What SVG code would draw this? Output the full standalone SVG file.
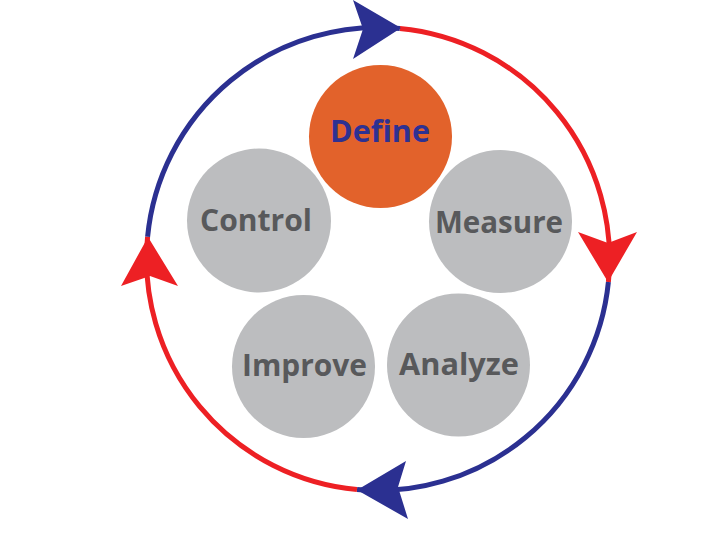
<svg xmlns="http://www.w3.org/2000/svg" width="720" height="540" viewBox="0 0 720 540">
<style>
.bg{fill:#ffffff}
.node{fill:#bcbdbf}
.active{fill:#e2622b}
.lbl{font-family:"Open Sans","Liberation Sans",sans-serif;font-weight:bold;font-size:31px;fill:#58595b;text-anchor:middle}
.lbl-active{fill:#2e3192}
.red{fill:none;stroke:#ed2024;stroke-width:5}
.blue{fill:none;stroke:#2b3091;stroke-width:5}
.head-red{fill:#ed2024}
.head-blue{fill:#2b3091}
</style>
<rect class="bg" x="0" y="0" width="720" height="540"/>
<g id="connectors">
<path class="red" d="M399.8 28.5 A231.5 231.5 0 0 1 608.4 282"/>
<path class="blue" d="M608.4 282 A231.5 231.5 0 0 1 357 489.5"/>
<path class="red" d="M357 489.5 A231.5 231.5 0 0 1 147.6 236.8"/>
<path class="blue" d="M147.6 236.8 A231.5 231.5 0 0 1 399.8 28.5"/>
<polygon class="head-blue" points="401,28 353,0 363,29 353,59"/>
<polygon class="head-red" points="608,282 578,232 608,243 637,232"/>
<polygon class="head-blue" points="357,490 406,461 398,487 408,519"/>
<polygon class="head-red" points="148,237 121,286 150,276 178,286"/>
</g>
<g id="define">
<circle class="active" cx="380.5" cy="136.5" r="71.5"/>
<text class="lbl lbl-active" x="380" y="142" textLength="100" lengthAdjust="spacingAndGlyphs">Define</text>
</g>
<g id="measure">
<circle class="node" cx="500.5" cy="221.5" r="71.5"/>
<text class="lbl" x="499" y="233" textLength="128" lengthAdjust="spacingAndGlyphs">Measure</text>
</g>
<g id="analyze">
<circle class="node" cx="458.5" cy="365" r="71.5"/>
<text class="lbl" x="459" y="375" textLength="120" lengthAdjust="spacingAndGlyphs">Analyze</text>
</g>
<g id="improve">
<circle class="node" cx="303.5" cy="366.5" r="71.5"/>
<text class="lbl" x="304.5" y="376" textLength="125" lengthAdjust="spacingAndGlyphs">Improve</text>
</g>
<g id="control">
<circle class="node" cx="259" cy="220.5" r="72"/>
<text class="lbl" x="256" y="231" textLength="112" lengthAdjust="spacingAndGlyphs">Control</text>
</g>
</svg>
